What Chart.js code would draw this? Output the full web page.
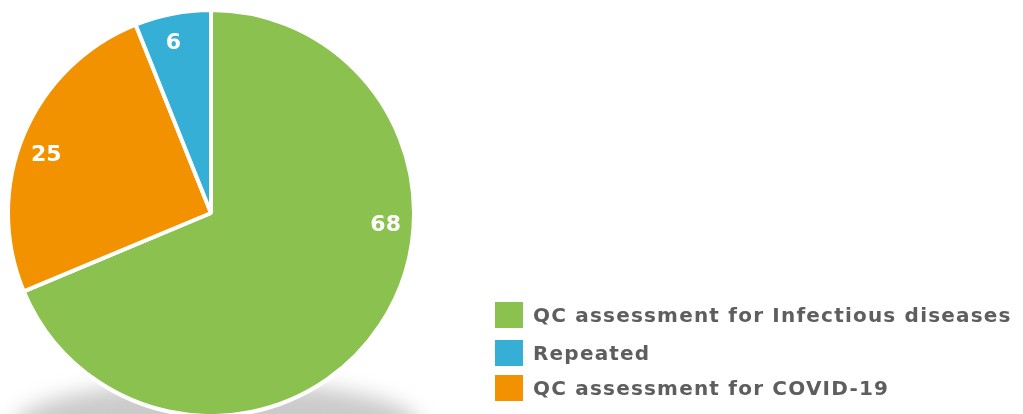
<!DOCTYPE html>
<html>
<head>
<meta charset="utf-8">
<script src="https://cdn.jsdelivr.net/npm/chart.js@4"></script>
<style>
  html, body { margin: 0; padding: 0; background: #ffffff; }
  #wrap { position: relative; width: 1023px; height: 414px; overflow: hidden; }
  #c { position: absolute; left: 0; top: 0; }
  .leg { position: absolute; left: 495px; display: flex; align-items: center; height: 26px;
         font-family: "DejaVu Sans", sans-serif; font-weight: 700; font-size: 20px; color: #5e5e5e;
         letter-spacing: 1.2px; white-space: nowrap; }
  .leg .box { width: 28px; height: 26px; margin-right: 10px; flex: none; }
</style>
</head>
<body>
<div id="wrap">
  <canvas id="c" width="1023" height="414"></canvas>
</div>
<script>
// ---- data ----
const categories = ["QC assessment for Infectious diseases", "QC assessment for COVID-19", "Repeated"];
const values = [68, 25, 6];
const colors = ["#8bc14e", "#f39200", "#36afd6"];
const legendOrder = [0, 2, 1];

// label angle adjustments (degrees) to mimic original label placement
const labelAngleShift = [-30, -3, -1.5];

const shadowPlugin = {
  id: 'shadow',
  beforeDatasetsDraw(chart) {
    const arc = chart.getDatasetMeta(0).data[0];
    if (!arc) return;
    const { x, y, outerRadius } = arc.getProps(['x', 'y', 'outerRadius'], true);
    const ctx = chart.ctx;
    ctx.save();
    ctx.filter = 'blur(10px)';
    ctx.fillStyle = '#cbcbcb';
    ctx.beginPath();
    ctx.ellipse(x + 6, y + outerRadius * 1.05, outerRadius * 1.0, outerRadius * 0.22, 0, 0, Math.PI * 2);
    ctx.fill();
    ctx.restore();
  }
};

const labelPlugin = {
  id: 'sliceLabels',
  afterDatasetsDraw(chart) {
    const ctx = chart.ctx;
    const meta = chart.getDatasetMeta(0);
    ctx.save();
    ctx.fillStyle = '#ffffff';
    ctx.font = '700 22px "DejaVu Sans", sans-serif';
    ctx.textAlign = 'center';
    ctx.textBaseline = 'middle';
    meta.data.forEach((arc, i) => {
      const p = arc.getProps(['x', 'y', 'startAngle', 'endAngle', 'outerRadius'], true);
      const mid = (p.startAngle + p.endAngle) / 2 + labelAngleShift[i] * Math.PI / 180;
      const r = p.outerRadius * 0.862;
      ctx.fillText(String(values[i]), p.x + Math.cos(mid) * r, p.y + Math.sin(mid) * r + 1);
    });
    ctx.restore();
  }
};

new Chart(document.getElementById('c'), {
  type: 'pie',
  data: {
    labels: categories,
    datasets: [{
      data: values,
      backgroundColor: colors,
      borderColor: '#ffffff',
      borderWidth: 4,
      radius: 203,
      clip: false
    }]
  },
  options: {
    responsive: false,
    animation: false,
    layout: { padding: { left: 10, top: 12, right: 611, bottom: 0 } },
    plugins: { legend: { display: false }, tooltip: { enabled: false } }
  },
  plugins: [shadowPlugin, labelPlugin]
});

// HTML legend built from the data arrays
const legendTops = [302, 340, 375];
const wrap = document.getElementById('wrap');
legendOrder.forEach((idx, k) => {
  const d = document.createElement('div');
  d.className = 'leg';
  d.style.top = legendTops[k] + 'px';
  const b = document.createElement('span');
  b.className = 'box';
  b.style.background = colors[idx];
  const t = document.createElement('span');
  t.textContent = categories[idx];
  d.appendChild(b); d.appendChild(t);
  wrap.appendChild(d);
});
</script>
</body>
</html>
